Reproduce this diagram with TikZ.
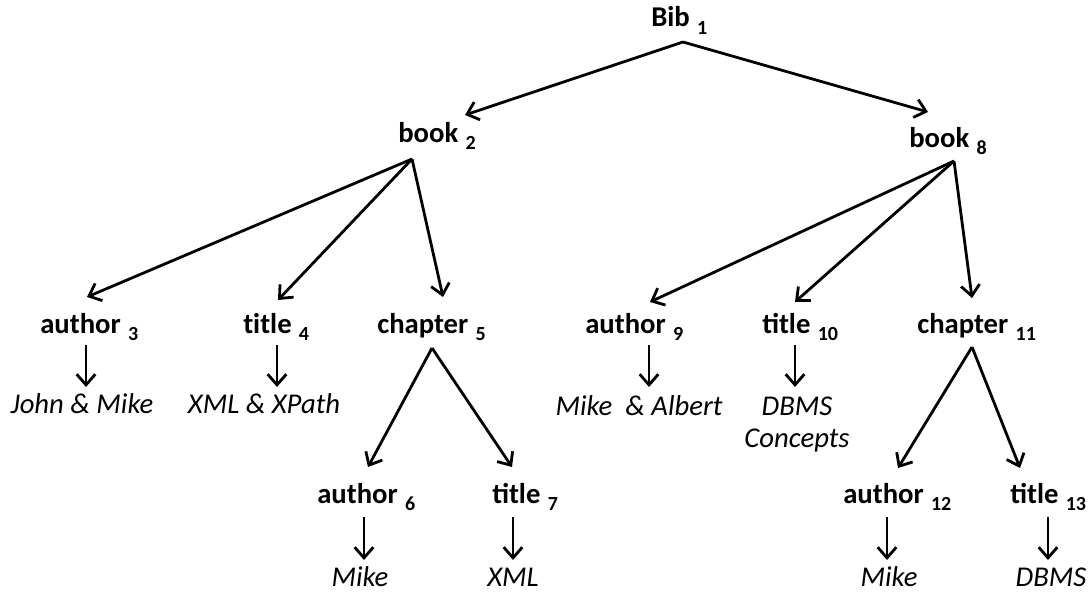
\documentclass[tikz,border=0pt]{standalone}
\usepackage{fontspec}
\setmainfont{Carlito}
\usetikzlibrary{arrows.meta,calc}

% element label: bold word followed by a lowered index number
\newcommand{\elem}[2]{#1\hspace{5.5pt}\raisebox{-5.5pt}{\fontsize{15}{15}\selectfont #2}}

\tikzset{
  tag/.style={anchor=base west, inner sep=0pt, font=\fontsize{21.5}{24}\selectfont\bfseries},
  val/.style={anchor=base, inner sep=0pt, font=\fontsize{21.5}{24}\selectfont\itshape},
  arr/.style={line width=2.1pt, -{Straight Barb[length=8pt,width=14pt]}}
}

\begin{document}
\begin{tikzpicture}[x=0.75pt, y=-0.75pt]
\useasboundingbox (0,0) rectangle (1091,592);

% element nodes
\node[tag] (bib)   at (651,27)   {\elem{Bib}{1}};
\node[tag] (book2) at (398,142)  {\elem{book}{2}};
\node[tag] (book8) at (909,147)  {\elem{book}{8}};
\node[tag] (au3)   at (40,333)   {\elem{author}{3}};
\node[tag] (ti4)   at (243,333)  {\elem{t\kern0pt itle}{4}};
\node[tag] (ch5)   at (377,333)  {\elem{chapter}{5}};
\node[tag] (au6)   at (317,503)  {\elem{author}{6}};
\node[tag] (ti7)   at (492,503)  {\elem{title}{7}};
\node[tag] (au9)   at (585,333)  {\elem{author}{9}};
\node[tag] (ti10)  at (762,333)  {\elem{title}{10}};
\node[tag] (ch11)  at (917,333)  {\elem{chapter}{11}};
\node[tag] (au12)  at (843,503)  {\elem{author}{12}};
\node[tag] (ti13)  at (1010,503) {\elem{title}{13}};

% text values
\node[val] (v3)  at (82,413)   {John \& Mike};
\node[val] (v4)  at (264,413)  {XML \& XPath};
\node[val] (v6)  at (360,586)  {Mike};
\node[val] (v7)  at (513,586)  {XML};
\node[val] (v9)  at (639,415)  {Mike~ \& Albert};
\node[val, align=center] (v10) at (797,447) {DBMS\\Concepts};
\node[val] (v12) at (889,586)  {Mike};
\node[val] (v13) at (1051,586) {DBMS};

% parent-child edges
\draw[arr] ($(bib.base west)+(32,15)$)   -- ($(book2.base west)+(67,-27)$);
\draw[arr] ($(bib.base west)+(32,15)$)   -- ($(book8.base west)+(19,-35)$);

\draw[arr] ($(book2.base west)+(14,17)$) -- ($(au3.base west)+(47,-36)$);
\draw[arr] ($(book2.base west)+(14,17)$) -- ($(ti4.base west)+(35,-33)$);
\draw[arr] ($(book2.base west)+(14,17)$) -- ($(ch5.base west)+(66,-36)$);

\draw[arr] ($(ch5.base west)+(55,15)$)   -- ($(au6.base west)+(51,-36)$);
\draw[arr] ($(ch5.base west)+(55,15)$)   -- ($(ti7.base west)+(20,-36)$);

\draw[arr] ($(book8.base west)+(45,14)$) -- ($(au9.base west)+(65,-31)$);
\draw[arr] ($(book8.base west)+(45,14)$) -- ($(ti10.base west)+(33,-31)$);
\draw[arr] ($(book8.base west)+(45,14)$) -- ($(ch11.base west)+(55,-35)$);

\draw[arr] ($(ch11.base west)+(55,14)$)  -- ($(au12.base west)+(55,-35)$);
\draw[arr] ($(ch11.base west)+(55,14)$)  -- ($(ti13.base west)+(10,-35)$);

% element-value edges
\draw[arr] ($(au3.base west)+(46,12)$)   -- ($(v3.base)+(4,-26)$);
\draw[arr] ($(ti4.base west)+(34,12)$)   -- ($(v4.base)+(13,-26)$);
\draw[arr] ($(au6.base west)+(47,14)$)   -- ($(v6.base)+(4,-26)$);
\draw[arr] ($(ti7.base west)+(21,14)$)   -- ($(v7.base)+(0,-26)$);
\draw[arr] ($(au9.base west)+(64,12)$)   -- ($(v9.base)+(10,-28)$);
\draw[arr] ($(ti10.base west)+(33,12)$)  -- ($(v10.base)+(-2,-60)$);
\draw[arr] ($(au12.base west)+(44,14)$)  -- ($(v12.base)+(-2,-26)$);
\draw[arr] ($(ti13.base west)+(38,14)$)  -- ($(v13.base)+(-3,-26)$);
\end{tikzpicture}
\end{document}
